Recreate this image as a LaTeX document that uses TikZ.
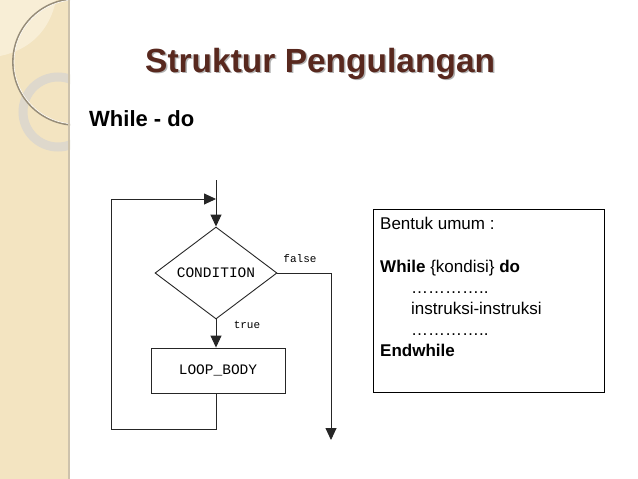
\documentclass[tikz,border=0pt]{standalone}
\usepackage{fontspec}
\setmainfont{Liberation Sans}
\newfontfamily\monof{Liberation Mono}
\usetikzlibrary{arrows.meta,shapes.geometric}
\definecolor{strip}{RGB}{243,228,193}
\definecolor{striplight}{RGB}{248,238,214}
\definecolor{stripedge}{RGB}{205,194,172}
\definecolor{ringgray}{RGB}{222,216,204}
\definecolor{arcgray}{RGB}{150,140,120}
\definecolor{titlebrown}{RGB}{88,40,30}
\tikzset{
  flow/.style={line width=0.9pt,draw=black!85},
  arr/.style={flow,-{Triangle[length=12pt,width=11pt]}},
  condnode/.style={diamond,draw=black!85,line width=0.9pt,inner sep=0pt,minimum width=122pt,minimum height=92pt,font=\monof\fontsize{14.5}{16}\selectfont},
  bodynode/.style={rectangle,draw=black!85,line width=0.9pt,minimum width=134pt,minimum height=45pt,font=\monof\fontsize{14.5}{16}\selectfont},
  lbl/.style={font=\monof\fontsize{11}{12}\selectfont,inner sep=0pt},
  codetxt/.style={anchor=base west,inner sep=0pt,font=\fontsize{17}{19}\selectfont},
}
\begin{document}
\begin{tikzpicture}[x=1pt,y=-1pt]
\useasboundingbox (0,0) rectangle (638,479);
\fill[white] (0,0) rectangle (638,479);
% left decorative strip
\begin{scope}
\clip (0,0) rectangle (70,479);
\fill[strip] (0,0) rectangle (70,479);
\fill[striplight] (0,0) -- (56,0) .. controls (50,30) and (30,50) .. (0,56) -- cycle;
\draw[ringgray,line width=9pt] (58,112) circle (35);
\draw[arcgray,line width=1.8pt] (76,62) circle (63);
\draw[white!90!strip,line width=0.6pt] (76,62) circle (62);
\end{scope}
\fill[stripedge] (67.5,0) rectangle (70,479);
% title
\node[anchor=base west,inner sep=0pt,text=black!30,font=\bfseries\fontsize{33.5}{38}\selectfont] at (146.5,73.5) {Struktur Pengulangan};
\node[anchor=base west,inner sep=0pt,text=titlebrown,font=\bfseries\fontsize{33.5}{38}\selectfont] (title) at (145,72) {Struktur Pengulangan};
\node[anchor=base west,inner sep=0pt,font=\bfseries\fontsize{22}{26}\selectfont] (sub) at (89,126) {While - do};
% flowchart
\coordinate (entry) at (216,180);
\coordinate (join) at (216,199);
\node[condnode] (cond) at (216,273) {CONDITION};
\node[bodynode] (body) at (218,370.5) {LOOP\_BODY};
\coordinate (exit) at (331,440);
\draw[flow] (entry) -- (join);
\draw[arr] (join) -- (cond.north);
\draw[arr] (cond.south) -- (body.north -| cond.south);
\draw[arr] (body.south -| cond.south) -- (216,429) -- (111,429) -- (111,199) -- (join);
\draw[arr] (cond.east) -- (exit |- cond.east) -- (exit);
\node[lbl] (false) at (300,259) {false};
\node[lbl] (true) at (247,325) {true};
% code box
\node[draw=black,line width=0.9pt,minimum width=231pt,minimum height=183pt,inner sep=0pt] (codebox) at (488.5,300.5) {};
\node[codetxt] (l1) at (380,229) {Bentuk umum :};
\node[codetxt] (l2) at (380,272) {\textbf{While} \{kondisi\} \textbf{do}};
\node[codetxt] (l3) at (411,293) {…………..};
\node[codetxt] (l4) at (411,314) {instruksi-instruksi};
\node[codetxt] (l5) at (411,335) {…………..};
\node[codetxt] (l6) at (380,356) {\textbf{Endwhile}};
\end{tikzpicture}
\end{document}
